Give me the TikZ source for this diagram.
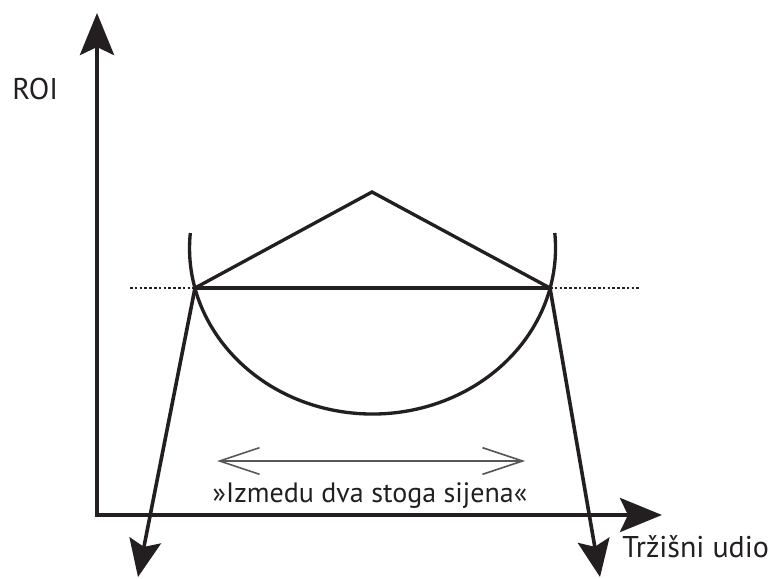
\documentclass[tikz,border=0pt]{standalone}
\usepackage{fontspec}
\setmainfont{PT Sans}
\usetikzlibrary{arrows.meta, positioning, calc}
\definecolor{inkdark}{HTML}{231F20}

\begin{document}
\begin{tikzpicture}[
  x=0.75pt, y=0.75pt,
  axis/.style={line width=3.4pt, color=inkdark, line join=miter, {Stealth[length=31.5pt, width=25.5pt, inset=6pt]}-{Stealth[length=31.5pt, width=25.5pt, inset=6pt]}},
  slant/.style={line width=2.7pt, color=inkdark, -{Stealth[length=28pt, width=24pt, inset=5pt]}},
  curve/.style={line width=2.5pt, color=inkdark},
  level/.style={line width=1.8pt, color=inkdark, dash pattern=on 2pt off 1.6pt},
  span/.style={line width=1.2pt, color=inkdark!75, {Straight Barb[length=30pt, width=20pt]}-{Straight Barb[length=30pt, width=20pt]}},
  lbl/.style={font=\fontsize{22.5}{26}\selectfont, text=inkdark, inner sep=0pt},
]
\useasboundingbox (0,0) rectangle (780,578);

% key points
\coordinate (o) at (97,63);
\coordinate (ytip) at (97,565);
\coordinate (xtip) at (662,63);
\coordinate (lcross) at (195,290);
\coordinate (rcross) at (550,290);
\coordinate (apex) at (372,386);
\coordinate (arcl) at (190.3,345);
\coordinate (ltip) at (138,1);
\coordinate (rtip) at (600,1);
\coordinate (lend) at (130,290);
\coordinate (rend) at (640,290);
\coordinate (spanl) at (217,117);
\coordinate (spanr) at (525,117);

% dotted level
\draw[level] (lend) -- (lcross);
\draw[level] (rcross) -- (rend);

% curve and roof
\draw[curve] (arcl) arc[start angle=174.8, end angle=365.2, x radius=183, y radius=166];
\draw[curve] (lcross) -- (apex) -- (rcross);
\draw[line width=3.2pt, color=inkdark] (lcross) -- (rcross);

% slanted arrows
\draw[slant] (lcross) -- (ltip);
\draw[slant] (rcross) -- (rtip);

% axes
\draw[axis] (ytip) -- (o) -- (xtip);

% span arrow
\draw[span] (spanl) -- (spanr);

% labels
\node[lbl, anchor=base west] (roi) at (12,478) {ROI};
\node[lbl, anchor=base west] (share) at (622,21) {Tržišni udio};
\node[lbl, anchor=base, font=\fontsize{21}{25}\selectfont] (hay) at (370,76) {»Izmedu dva stoga sijena«};
\end{tikzpicture}
\end{document}
